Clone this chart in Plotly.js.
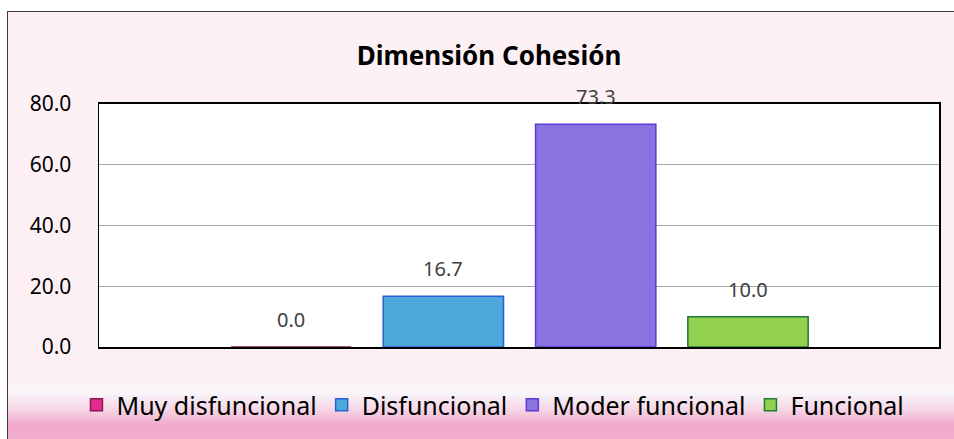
<!DOCTYPE html>
<html>
<head>
<meta charset="utf-8">
<script src="https://cdn.plot.ly/plotly-3.0.1.min.js"></script>
<style>
  html, body { margin: 0; padding: 0; background: #ffffff; }
  #frame {
    position: absolute; left: 7px; top: 11px; width: 960px; height: 440px;
    border: 1.5px solid #3a3a3a; box-sizing: border-box;
    background: linear-gradient(to bottom, #fdf1f5 0%, #fcf0f4 83%, #f8f5f9 87%, #f6d8e7 90.5%, #f1a7ca 94.5%, #f4b6d5 100%);
  }
  #chart { position: absolute; left: 0; top: 0; width: 954px; height: 439px; }
</style>
</head>
<body>
<div id="frame"></div>
<div id="chart"></div>
<script>
const categories = ["Muy disfuncional", "Disfuncional", "Moder funcional", "Funcional"];
const values = [0.0, 16.7, 73.3, 10.0];
const fillColors = ["#e22b8c", "#4fa8dc", "#8a73e1", "#92d050"];
const lineColors = ["#8c1a52", "#2a5fd2", "#5a3bd8", "#1f7a34"];
const chartTitle = "Dimensión Cohesión";
const yTicks = [0, 20, 40, 60, 80];

const traces = categories.map((c, i) => ({
  type: "bar",
  name: c,
  x: [c],
  y: [values[i]],
  width: 0.79,
  marker: { color: fillColors[i], line: { color: lineColors[i], width: 1.5 } },
  hoverinfo: "none"
}));

const annotations = categories.map((c, i) => ({
  x: c, y: values[i], xref: "x", yref: "y",
  text: values[i].toFixed(1),
  showarrow: false, yanchor: "bottom", yshift: 12,
  font: { family: "Noto Sans", size: 20, color: "#404040" }
}));

const layout = {
  width: 954, height: 439,
  margin: { l: 99, r: 15, t: 104, b: 91 },
  paper_bgcolor: "rgba(0,0,0,0)",
  plot_bgcolor: "#ffffff",
  barmode: "overlay",
  title: {
    text: "<b>" + chartTitle + "</b>",
    font: { family: "Noto Sans", size: 26, color: "#000000" },
    xref: "container", yref: "container", x: 0.5126, y: 0.873,
    xanchor: "center", yanchor: "middle"
  },
  xaxis: {
    type: "category",
    categoryarray: categories,
    range: [-1.261, 4.254],
    showticklabels: false, ticks: "",
    showgrid: false, zeroline: false,
    showline: true, mirror: true, linecolor: "#000000", linewidth: 2,
    fixedrange: true
  },
  yaxis: {
    range: [0, 80],
    tickvals: yTicks,
    tickformat: ".1f",
    ticklabelstandoff: 22,
    tickfont: { family: "Noto Sans", size: 21, color: "#000000" },
    showgrid: true, gridcolor: "#a6a6a6", gridwidth: 1,
    zeroline: false,
    showline: true, mirror: true, linecolor: "#000000", linewidth: 1.5,
    ticks: "", fixedrange: true
  },
  showlegend: true,
  legend: {
    orientation: "h",
    x: 0.469, xanchor: "center",
    y: -0.234, yanchor: "middle",
    font: { family: "Noto Sans", size: 25, color: "#000000" },
    bgcolor: "rgba(0,0,0,0)",
    itemclick: false, itemdoubleclick: false
  },
  annotations: annotations
};

Plotly.newPlot("chart", traces, layout, { staticPlot: true, displayModeBar: false });
</script>
</body>
</html>
